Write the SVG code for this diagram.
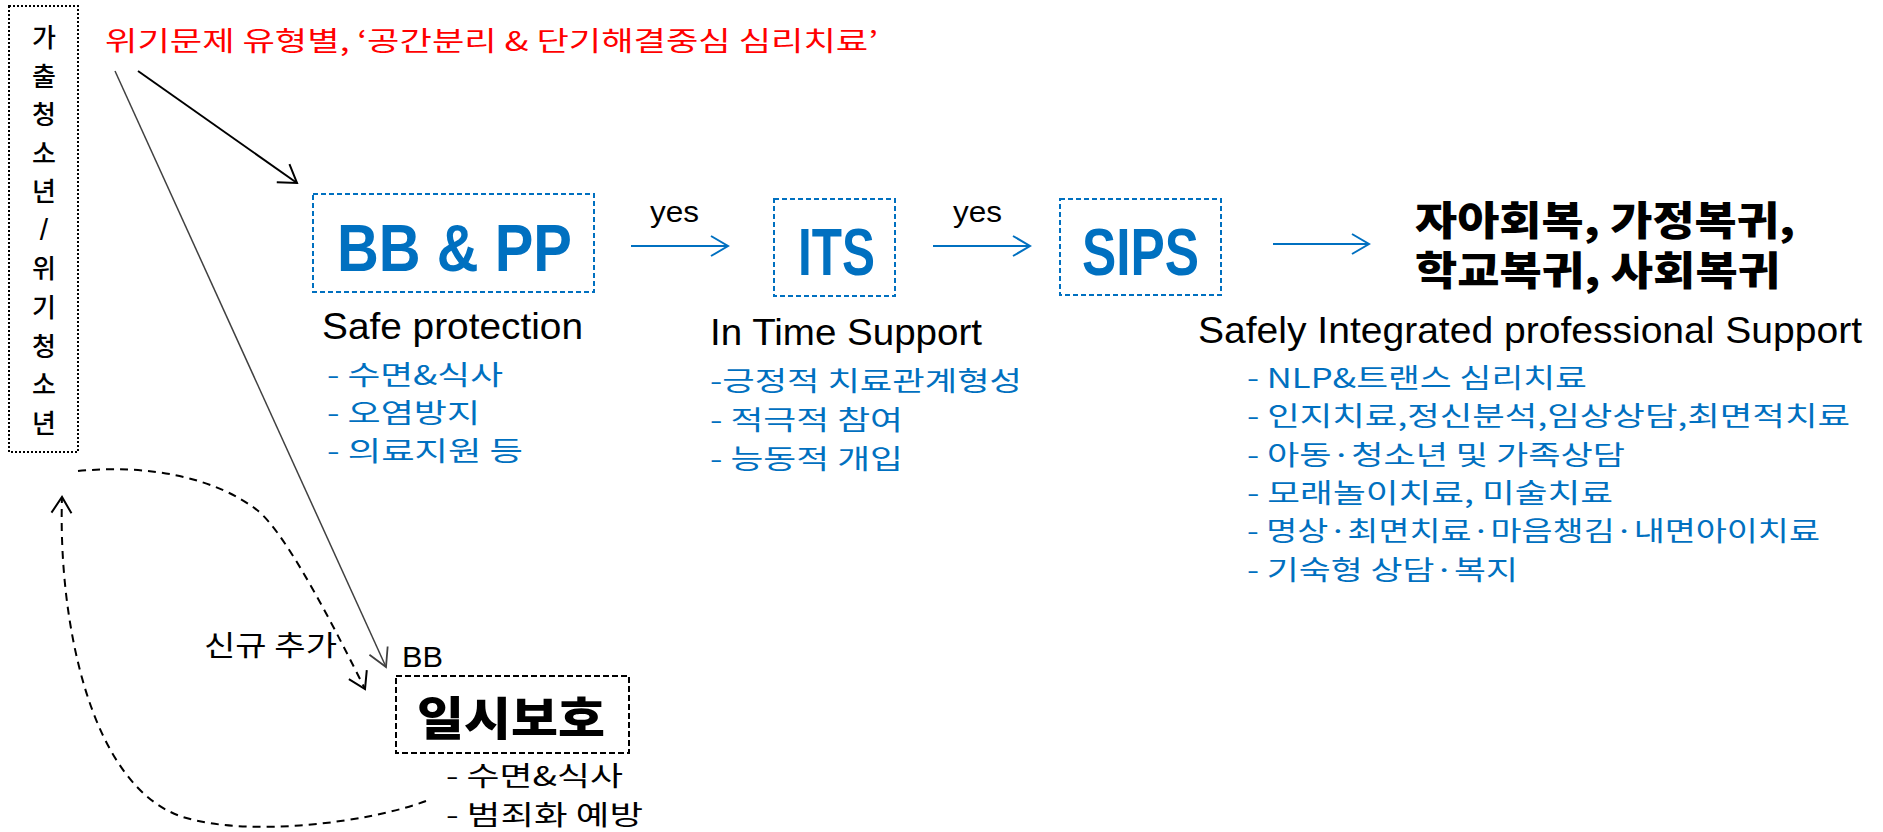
<svg xmlns="http://www.w3.org/2000/svg" width="1883" height="832" viewBox="0 0 1883 832">
<style>
.kr { font-family: "Noto Sans CJK KR", "Noto Sans", sans-serif; }
.lat { font-family: "Liberation Sans", Arial, sans-serif; }
.blue { fill: #0070C0; }
.blk { fill: #000000; }
.big { font-family: "Liberation Sans", Arial, sans-serif; font-weight: bold; font-size: 67px; fill: #0070C0; }
.bluebox { fill: none; stroke: #0070C0; stroke-width: 2; stroke-dasharray: 5 3; }
.list { font-size: 27px; }
.conn-blue { fill: none; stroke: #0070C0; stroke-width: 2.2; }
.conn-dash { fill: none; stroke: #000; stroke-width: 2; stroke-dasharray: 8 6; }
</style>
<defs>
<marker id="arrBlue" markerUnits="userSpaceOnUse" viewBox="-22 -13 25 26" markerWidth="25" markerHeight="26" refX="0" refY="0" orient="auto">
<path d="M-17,-10 L0,0 L-17,10" fill="none" stroke="#0070C0" stroke-width="2"/>
</marker>
<marker id="arrBlack" markerUnits="userSpaceOnUse" viewBox="-22 -14 25 28" markerWidth="25" markerHeight="28" refX="0" refY="0" orient="auto">
<path d="M-17,-11 L0,0 L-17,11" fill="none" stroke="#000" stroke-width="2"/>
</marker>
<marker id="arrGray" markerUnits="userSpaceOnUse" viewBox="-22 -14 25 28" markerWidth="25" markerHeight="28" refX="0" refY="0" orient="auto">
<path d="M-18,-10 L0,0 L-18,10" fill="none" stroke="#404040" stroke-width="1.8"/>
</marker>
<marker id="arrDash" markerUnits="userSpaceOnUse" viewBox="-22 -14 25 28" markerWidth="25" markerHeight="28" refX="0" refY="0" orient="auto">
<path d="M-16,-10 L0,0 L-16,10" fill="none" stroke="#000" stroke-width="2"/>
</marker>
</defs>
<rect width="1883" height="832" fill="#ffffff"/>

<g id="title">
<text class="kr" x="105" y="51" font-size="27" fill="#FF0000" textLength="773" lengthAdjust="spacingAndGlyphs">위기문제 유형별, ‘공간분리 &amp; 단기해결중심 심리치료’</text>
</g>

<g id="runaway-youth">
<rect x="9" y="6" width="69" height="446" fill="none" stroke="#000" stroke-width="2" stroke-dasharray="2 2"/>
<g class="kr blk" font-size="26" font-weight="500" text-anchor="middle">
<text x="44" y="47">가</text>
<text x="44" y="86">출</text>
<text x="44" y="124">청</text>
<text x="44" y="163">소</text>
<text x="44" y="201">년</text>
<text x="44" y="240" class="lat" font-size="30" font-weight="normal">/</text>
<text x="44" y="278">위</text>
<text x="44" y="317">기</text>
<text x="44" y="356">청</text>
<text x="44" y="394">소</text>
<text x="44" y="433">년</text>
</g>
</g>

<g id="bbpp">
<rect class="bluebox" x="313" y="194" width="281" height="98"/>
<text class="big" x="337" y="271" textLength="235" lengthAdjust="spacingAndGlyphs">BB &amp; PP</text>
<text class="lat blk" x="322" y="339" font-size="36" textLength="261" lengthAdjust="spacingAndGlyphs">Safe protection</text>
<g class="kr blue list">
<text x="327" y="385" textLength="176" lengthAdjust="spacingAndGlyphs">- 수면&amp;식사</text>
<text x="327" y="423" textLength="153" lengthAdjust="spacingAndGlyphs">- 오염방지</text>
<text x="327" y="461" textLength="196" lengthAdjust="spacingAndGlyphs">- 의료지원 등</text>
</g>
</g>

<g id="its">
<rect class="bluebox" x="774" y="199" width="121" height="97"/>
<text class="big" x="798" y="275" textLength="77" lengthAdjust="spacingAndGlyphs">ITS</text>
<text class="lat blk" x="710" y="345" font-size="37" textLength="272" lengthAdjust="spacingAndGlyphs">In Time Support</text>
<g class="kr blue list">
<text x="710" y="391" textLength="312" lengthAdjust="spacingAndGlyphs">-긍정적 치료관계형성</text>
<text x="710" y="430" textLength="193" lengthAdjust="spacingAndGlyphs">-  적극적 참여</text>
<text x="710" y="469" textLength="193" lengthAdjust="spacingAndGlyphs">-  능동적 개입</text>
</g>
</g>

<g id="sips">
<rect class="bluebox" x="1060" y="199" width="161" height="96"/>
<text class="big" x="1082" y="275" textLength="117" lengthAdjust="spacingAndGlyphs">SIPS</text>
<text class="lat blk" x="1198" y="343" font-size="36" textLength="664" lengthAdjust="spacingAndGlyphs">Safely Integrated professional Support</text>
<g class="kr blue list">
<text x="1247" y="388" textLength="340" lengthAdjust="spacingAndGlyphs">- NLP&amp;트랜스 심리치료</text>
<text x="1247" y="426" textLength="603" lengthAdjust="spacingAndGlyphs">- 인지치료,정신분석,임상상담,최면적치료</text>
<text x="1247" y="465" textLength="378" lengthAdjust="spacingAndGlyphs">- 아동·청소년 및 가족상담</text>
<text x="1247" y="503" textLength="366" lengthAdjust="spacingAndGlyphs">- 모래놀이치료, 미술치료</text>
<text x="1247" y="541" textLength="573" lengthAdjust="spacingAndGlyphs">- 명상·최면치료·마음챙김·내면아이치료</text>
<text x="1247" y="580" textLength="271" lengthAdjust="spacingAndGlyphs">- 기숙형 상담·복지</text>
</g>
</g>

<g id="outcome">
<text class="kr blk" font-size="40" font-weight="900"><tspan x="1415" y="235" textLength="380" lengthAdjust="spacingAndGlyphs">자아회복, 가정복귀,</tspan><tspan x="1415" y="285" textLength="365" lengthAdjust="spacingAndGlyphs">학교복귀, 사회복귀</tspan></text>
</g>

<g id="temporary-shelter">
<text class="lat blk" x="402" y="667" font-size="30" textLength="41" lengthAdjust="spacingAndGlyphs">BB</text>
<rect x="396" y="676" width="233" height="77" fill="none" stroke="#000" stroke-width="2" stroke-dasharray="6 3"/>
<text class="kr blk" x="417" y="735" font-size="46" font-weight="900" textLength="188" lengthAdjust="spacingAndGlyphs">일시보호</text>
<g class="kr blk list">
<text x="446" y="786" textLength="177" lengthAdjust="spacingAndGlyphs">- 수면&amp;식사</text>
<text x="446" y="825" textLength="197" lengthAdjust="spacingAndGlyphs">- 범죄화 예방</text>
</g>
</g>

<g id="connectors">
<path d="M138,71 L297,183" fill="none" stroke="#000" stroke-width="2" marker-end="url(#arrBlack)"/>
<path d="M115,71 L386,667" fill="none" stroke="#404040" stroke-width="1.5" marker-end="url(#arrGray)"/>
<path class="conn-blue" d="M631,246 L728,246" marker-end="url(#arrBlue)"/>
<text class="lat blk" x="650" y="222" font-size="30" textLength="49" lengthAdjust="spacingAndGlyphs">yes</text>
<path class="conn-blue" d="M933,246 L1030,246" marker-end="url(#arrBlue)"/>
<text class="lat blk" x="953" y="222" font-size="30" textLength="49" lengthAdjust="spacingAndGlyphs">yes</text>
<path class="conn-blue" d="M1273,244 L1369,244" marker-end="url(#arrBlue)"/>
<path class="conn-dash" d="M78,471 C150,464 215,478 257,510 C287,533 340,639 365,689" marker-end="url(#arrDash)"/>
<text class="kr blk" x="204" y="656" font-size="28" textLength="133" lengthAdjust="spacingAndGlyphs">신규 추가</text>
<path class="conn-dash" d="M426,801 C370,822 250,838 183,817 C90,787 58,620 62,497" marker-end="url(#arrDash)"/>
</g>
</svg>
